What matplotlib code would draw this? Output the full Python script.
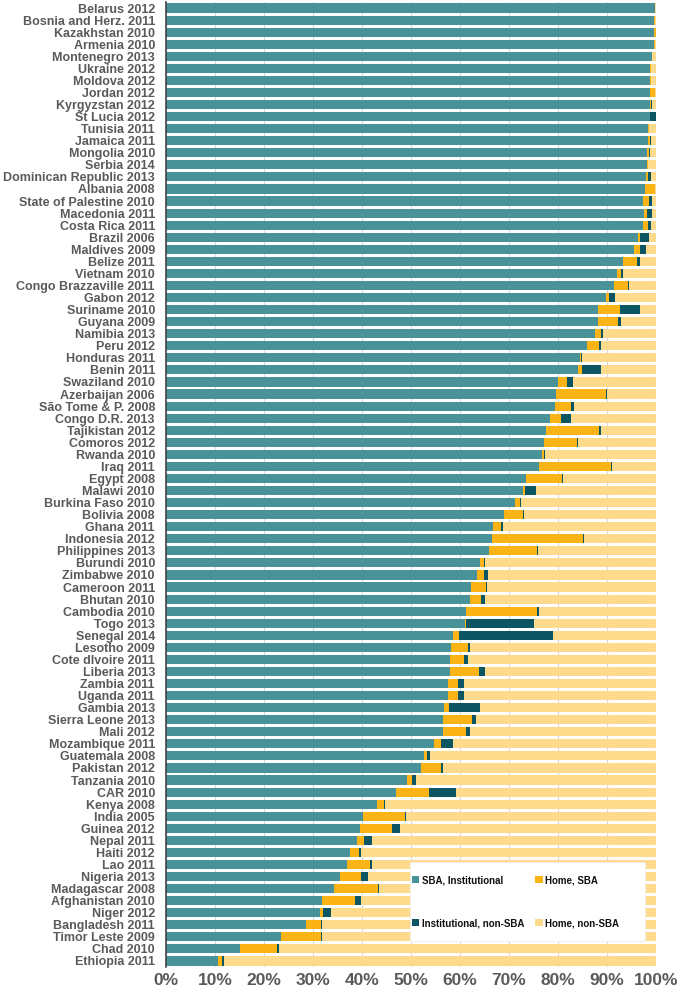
import numpy as np
import matplotlib
matplotlib.use("Agg")
import matplotlib.pyplot as plt
from matplotlib.patches import Patch, Rectangle

countries = [
    "Belarus 2012", "Bosnia and Herz. 2011", "Kazakhstan 2010", "Armenia 2010",
    "Montenegro 2013", "Ukraine 2012", "Moldova 2012", "Jordan 2012",
    "Kyrgyzstan 2012", "St Lucia 2012", "Tunisia 2011", "Jamaica 2011",
    "Mongolia 2010", "Serbia 2014", "Dominican Republic 2013", "Albania 2008",
    "State of Palestine 2010", "Macedonia 2011", "Costa Rica 2011", "Brazil 2006",
    "Maldives 2009", "Belize 2011", "Vietnam 2010", "Congo Brazzaville 2011",
    "Gabon 2012", "Suriname 2010", "Guyana 2009", "Namibia 2013",
    "Peru 2012", "Honduras 2011", "Benin 2011", "Swaziland 2010",
    "Azerbaijan 2006", "São Tome & P. 2008", "Congo D.R. 2013", "Tajikistan 2012",
    "Comoros 2012", "Rwanda 2010", "Iraq 2011", "Egypt 2008",
    "Malawi 2010", "Burkina Faso 2010", "Bolivia 2008", "Ghana 2011",
    "Indonesia 2012", "Philippines 2013", "Burundi 2010", "Zimbabwe 2010",
    "Cameroon 2011", "Bhutan 2010", "Cambodia 2010", "Togo 2013",
    "Senegal 2014", "Lesotho 2009", "Cote dIvoire 2011", "Liberia 2013",
    "Zambia 2011", "Uganda 2011", "Gambia 2013", "Sierra Leone 2013",
    "Mali 2012", "Mozambique 2011", "Guatemala 2008", "Pakistan 2012",
    "Tanzania 2010", "CAR 2010", "Kenya 2008", "India 2005",
    "Guinea 2012", "Nepal 2011", "Haiti 2012", "Lao 2011",
    "Nigeria 2013", "Madagascar 2008", "Afghanistan 2010", "Niger 2012",
    "Bangladesh 2011", "Timor Leste 2009", "Chad 2010", "Ethiopia 2011",
]

# % of births: SBA in institution, SBA at home, institution without SBA
sba_inst = [
    99.7, 99.6, 99.6, 99.6, 99.1, 98.8, 98.8, 98.8, 98.8, 98.8,
    98.4, 98.3, 98.2, 98.2, 98.0, 97.8, 97.4, 97.6, 97.4, 96.4,
    95.5, 93.2, 92.0, 91.5, 89.7, 88.1, 88.1, 87.5, 85.9, 84.5,
    84.1, 80.1, 79.5, 79.4, 78.3, 77.6, 77.2, 76.7, 76.2, 73.5,
    72.8, 71.3, 68.9, 66.8, 66.5, 66.0, 64.1, 63.4, 62.3, 62.0,
    61.3, 61.0, 58.5, 58.2, 57.9, 57.9, 57.5, 57.5, 56.8, 56.5,
    56.5, 54.7, 52.6, 52.1, 49.2, 46.9, 43.1, 40.3, 39.5, 38.9,
    37.5, 36.9, 35.5, 34.3, 31.8, 31.4, 28.5, 23.4, 15.2, 10.6,
]
home_sba = [
    0.1, 0.1, 0.3, 0.1, 0.1, 0.1, 0.1, 0.9, 0.1, 0.0,
    0.1, 0.5, 0.4, 0.1, 0.4, 1.9, 1.2, 0.6, 0.9, 0.3,
    1.3, 3.0, 0.8, 2.8, 0.8, 4.5, 4.1, 1.2, 2.4, 0.1,
    0.8, 1.7, 10.3, 3.3, 2.3, 10.8, 6.6, 0.4, 14.6, 7.4,
    0.5, 1.0, 3.9, 1.6, 18.5, 9.7, 0.8, 1.5, 3.0, 2.3,
    14.5, 0.3, 1.2, 3.5, 2.9, 6.0, 2.0, 2.0, 0.9, 5.9,
    4.8, 1.4, 0.6, 4.1, 1.1, 6.8, 1.4, 8.4, 6.7, 1.5,
    1.9, 4.7, 4.2, 9.0, 6.7, 0.7, 3.1, 8.2, 7.5, 0.9,
]
inst_non_sba = [
    0.0, 0.0, 0.0, 0.0, 0.0, 0.0, 0.1, 0.0, 0.2, 1.2,
    0.0, 0.2, 0.2, 0.0, 0.6, 0.0, 0.5, 0.9, 0.6, 1.8,
    1.1, 0.5, 0.4, 0.2, 1.2, 4.1, 0.7, 0.4, 0.4, 0.3,
    3.9, 1.2, 0.3, 0.5, 2.0, 0.3, 0.2, 0.2, 0.3, 0.2,
    2.3, 0.2, 0.3, 0.3, 0.3, 0.3, 0.3, 0.8, 0.3, 0.9,
    0.3, 13.8, 19.3, 0.3, 0.9, 1.3, 1.3, 1.3, 6.4, 0.8,
    0.8, 2.5, 0.7, 0.4, 0.8, 5.4, 0.2, 0.3, 1.5, 1.7,
    0.3, 0.4, 1.5, 0.2, 1.2, 1.5, 0.3, 0.3, 0.3, 0.4,
]

series_names = ["SBA, Institutional", "Home, SBA", "Institutional, non-SBA", "Home, non-SBA"]
colors = ["#4a929a", "#fcb316", "#0c5664", "#fedb8c"]

a = np.array(sba_inst)
b = np.array(home_sba)
c = np.array(inst_non_sba)
d = 100 - a - b - c

plt.rcParams["font.family"] = ["Liberation Sans", "DejaVu Sans"]
txt = "#5a5a5a"
W, H = 681, 988

fig = plt.figure(figsize=(6.81, 9.88), dpi=100)
ax = fig.add_axes([166 / W, 1 - 967 / H, 490 / W, 965 / H])

y = np.arange(len(countries))
left = np.zeros(len(countries))
for vals, col in zip([a, b, c, d], colors):
    ax.barh(y, vals, left=left, height=0.76, color=col, zorder=2)
    left += vals

ax.set_ylim(len(countries) - 0.5, -0.5)
ax.set_xlim(0, 100)
ax.set_yticks(y)
ax.set_yticklabels(countries, fontsize=9, fontweight="bold", color=txt)
ax.set_xticks(np.arange(0, 101, 10))
ax.set_xticklabels([f"{v}%" for v in range(0, 101, 10)], fontsize=12.5,
                   fontweight="bold", color=txt)
ax.tick_params(axis="y", length=0, pad=8)
ax.tick_params(axis="x", length=0, pad=4)
ax.grid(axis="x", color="#d8d8d8", linewidth=0.8, zorder=1)
ax.set_axisbelow(True)
for s in ["top", "right", "bottom"]:
    ax.spines[s].set_visible(False)
ax.spines["left"].set_color("#444444")
ax.spines["left"].set_linewidth(1.2)
ax.spines["left"].set_zorder(3)

# white legend panel
box = Rectangle((410 / W, 1 - 941 / H), 235 / W, 79 / H, transform=fig.transFigure,
                facecolor="white", edgecolor="#eeeeee", linewidth=0.6, zorder=3)
fig.patches.append(box)

# column-wise fill: first column SBA inst / inst non-SBA, second home SBA / home non-SBA
order = [0, 2, 1, 3]
handles = [Patch(facecolor=colors[i], edgecolor="none") for i in order]
labels = [series_names[i] for i in order]
leg = fig.legend(handles, labels, ncol=2, loc="upper left",
                 bbox_to_anchor=(412 / W, 1 - 875 / H),
                 frameon=False, borderpad=0.0, borderaxespad=0.0,
                 prop={"size": 7, "weight": "bold"},
                 handlelength=0.75, handleheight=0.75, handletextpad=0.3,
                 columnspacing=1.1, labelspacing=3.4)
leg.set_zorder(4)
for t in leg.get_texts():
    t.set_color("#111111")

fig.savefig("out.png", dpi=100)
